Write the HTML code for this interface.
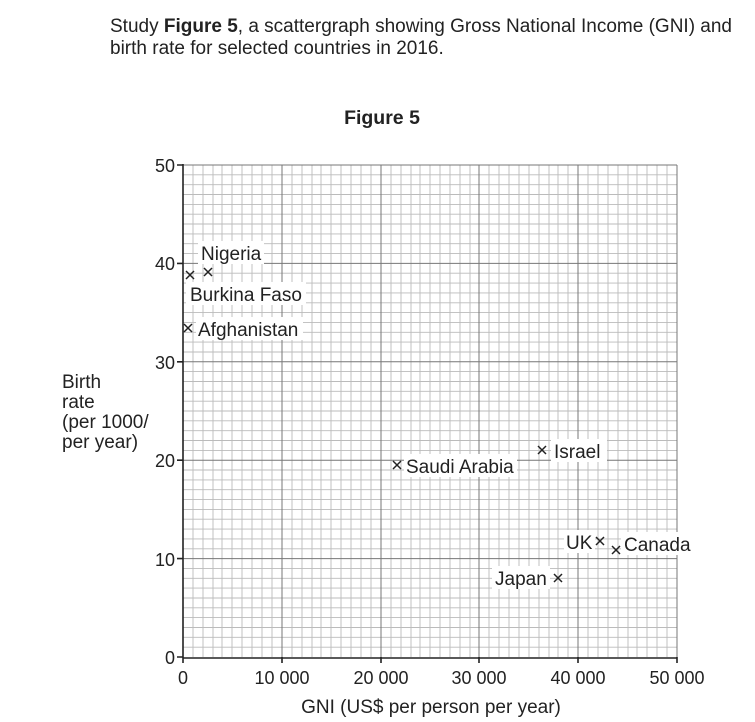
<!DOCTYPE html>
<html><head><style>body{margin:0;background:#fff}svg{display:block}</style></head><body>
<svg width="755" height="722" xmlns="http://www.w3.org/2000/svg" font-family="Liberation Sans, Arial, sans-serif" fill="#222">
<text x="110" y="32" font-size="19">Study <tspan font-weight="bold">Figure 5</tspan>, a scattergraph showing Gross National Income (GNI) and</text>
<text x="110" y="54" font-size="19">birth rate for selected countries in 2016.</text>
<text x="382" y="124" font-size="19.5" font-weight="bold" text-anchor="middle">Figure 5</text>
<g stroke="#bbb" stroke-width="0.9" fill="none">
<path d="M193 165V657M203 165V657M213 165V657M222 165V657M232 165V657M242 165V657M252 165V657M262 165V657M272 165V657M292 165V657M302 165V657M312 165V657M321 165V657M331 165V657M341 165V657M351 165V657M361 165V657M371 165V657M391 165V657M401 165V657M411 165V657M420 165V657M430 165V657M440 165V657M450 165V657M460 165V657M470 165V657M489 165V657M499 165V657M509 165V657M519 165V657M529 165V657M539 165V657M549 165V657M558 165V657M568 165V657M588 165V657M598 165V657M608 165V657M618 165V657M628 165V657M637 165V657M647 165V657M657 165V657M667 165V657"/>
<path d="M183 174.8H677M183 184.7H677M183 194.5H677M183 204.4H677M183 214.2H677M183 224H677M183 233.9H677M183 243.7H677M183 253.6H677M183 273.2H677M183 283.1H677M183 292.9H677M183 302.8H677M183 312.6H677M183 322.4H677M183 332.3H677M183 342.1H677M183 352H677M183 371.6H677M183 381.5H677M183 391.3H677M183 401.2H677M183 411H677M183 420.8H677M183 430.7H677M183 440.5H677M183 450.4H677M183 470H677M183 479.9H677M183 489.7H677M183 499.6H677M183 509.4H677M183 519.2H677M183 529.1H677M183 538.9H677M183 548.8H677M183 568.4H677M183 578.3H677M183 588.1H677M183 598H677M183 607.8H677M183 617.6H677M183 627.5H677M183 637.3H677M183 647.2H677"/>
</g>
<g stroke="#777" stroke-width="1" fill="none">
<path d="M282 165V657M381 165V657M479 165V657M578 165V657M677 165V657M183 165H677M183 263.4H677M183 361.8H677M183 460.2H677M183 558.6H677"/>
</g>
<g stroke="#222" stroke-width="1.6" fill="none">
<path d="M183 164V658H677M177 165H183M177 263.4H183M177 361.8H183M177 460.2H183M177 558.6H183M177 657H183M282 657V663M381 657V663M479 657V663M578 657V663M677 657V663M183 657V663"/>
</g>
<g font-size="18" text-anchor="end">
<text x="175" y="172">50</text><text x="175" y="270">40</text><text x="175" y="369">30</text><text x="175" y="467">20</text><text x="175" y="566">10</text><text x="175" y="664">0</text>
</g>
<g font-size="18" text-anchor="middle">
<text x="183" y="684">0</text><text x="282" y="684">10 000</text><text x="381" y="684">20 000</text><text x="479" y="684">30 000</text><text x="578" y="684">40 000</text><text x="677" y="684">50 000</text>
</g>
<text x="431" y="713" font-size="19" text-anchor="middle">GNI (US$ per person per year)</text>
<g font-size="19"><text x="62" y="388">Birth</text><text x="62" y="408">rate</text><text x="62" y="428">(per 1000/</text><text x="62" y="448">per year)</text></g>
<g fill="#fff">
<rect x="198" y="241" width="66" height="23"/><rect x="186" y="282" width="120" height="23"/><rect x="196" y="317" width="107" height="23"/>
<rect x="404" y="454" width="113" height="23"/><rect x="551" y="439" width="56" height="23"/><rect x="564" y="530" width="31" height="23"/>
<rect x="621" y="532" width="72" height="23"/><rect x="492" y="566" width="58" height="23"/>
</g>
<g font-size="19">
<text x="201" y="260">Nigeria</text><text x="190" y="301">Burkina Faso</text><text x="198" y="336">Afghanistan</text>
<text x="406" y="473">Saudi Arabia</text><text x="554" y="458">Israel</text><text x="566" y="549">UK</text>
<text x="624" y="551">Canada</text><text x="495" y="585">Japan</text>
</g>
<g stroke="#222" stroke-width="1.5" fill="none">
<path d="M186 271l8 8m0-8l-8 8M204 268l8 8m0-8l-8 8M184 324l8 8m0-8l-8 8M393 461l8 8m0-8l-8 8M538 446l8 8m0-8l-8 8M596 537l8 8m0-8l-8 8M612 546l8 8m0-8l-8 8M554 574l8 8m0-8l-8 8"/>
</g>
</svg>
</body></html>
